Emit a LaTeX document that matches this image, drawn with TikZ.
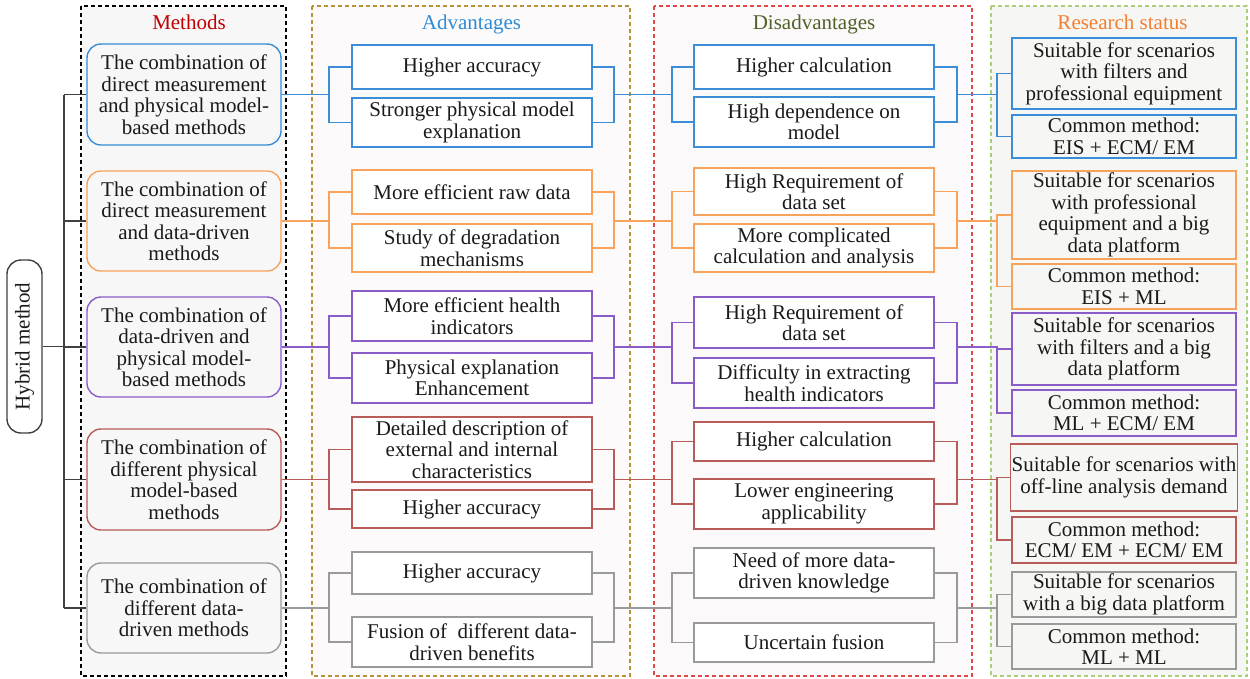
\documentclass[tikz,border=0pt]{standalone}
\usepackage{fontspec}
\setmainfont{Liberation Serif}
\definecolor{cB}{HTML}{3A8DD6}
\definecolor{cO}{HTML}{F7A35C}
\definecolor{cP}{HTML}{8A5CC8}
\definecolor{cR}{HTML}{B85C5A}
\definecolor{cG}{HTML}{9A9A9A}
\definecolor{tree}{HTML}{404040}
\definecolor{tM}{HTML}{C00000}
\definecolor{tA}{HTML}{2E8BD6}
\definecolor{tD}{HTML}{4F6228}
\definecolor{tR}{HTML}{F47E2F}
\definecolor{pA}{HTML}{B8923A}
\definecolor{pD}{HTML}{E04848}
\definecolor{pR}{HTML}{A8CF7A}
\definecolor{fM}{HTML}{F7F7F7}
\definecolor{fA}{HTML}{FDFAFB}
\definecolor{fD}{HTML}{FCF9FA}
\definecolor{fR}{HTML}{F6F6F4}
\definecolor{txt}{HTML}{1A1A1A}
\newcommand{\linkgroup}[8]{%
  \draw[conn,#1] (#2.east) -- (#2.east -| xAL);
  \draw[conn,#1] (#3.west) -- (#3.west -| xAL) -- (#4.west -| xAL) -- (#4.west);
  \draw[conn,#1] (#3.east) -- (#3.east -| xAR) -- (#4.east -| xAR) -- (#4.east);
  \draw[conn,#1] (#2.east -| xAR) -- (#2.east -| xDL);
  \draw[conn,#1] (#5.west) -- (#5.west -| xDL) -- (#6.west -| xDL) -- (#6.west);
  \draw[conn,#1] (#5.east) -- (#5.east -| xDR) -- (#6.east -| xDR) -- (#6.east);
  \draw[conn,#1] (#2.east -| xDR) -- (#2.east -| xRL) -- (#7.west -| xRL) -- (#7.west);
  \draw[conn,#1] (#7.west -| xRL) -- (#8.west -| xRL) -- (#8.west);
}
\begin{document}
\begin{tikzpicture}[x=1pt,y=-1pt,
  font=\fontsize{21}{21.5}\selectfont,
  every node/.style={text=txt},
  mbox/.style={draw, line width=1.4pt, rounded corners=14pt, fill=fM, minimum width=194pt, align=center, inner sep=1pt},
  abox/.style={draw, line width=1.4pt, fill=white, minimum width=240pt, align=center, inner sep=1pt},
  rbox/.style={draw, line width=1.4pt, fill=fR, minimum width=224pt, align=center, inner sep=1pt},
  conn/.style={line width=1.3pt},
  panel/.style={line width=1.1pt, dash pattern=on 4pt off 3pt},
  ttl/.style={anchor=base}]
\useasboundingbox (0,0) rectangle (1250,678);
% panels
\draw[panel, draw=black, fill=fM] (81,6) rectangle (286,676);
\draw[panel, draw=pA, fill=fA] (312,6) rectangle (630,676);
\draw[panel, draw=pD, fill=fD] (654,6) rectangle (972,676);
\draw[panel, draw=pR, fill=fR] (991,6) rectangle (1247,676);
% titles
\node[ttl, text=tM] (tMeth) at (189,29) {Methods};
\node[ttl, text=tA] (tAdv) at (471.5,29) {Advantages};
\node[ttl, text=tD] (tDis) at (814,29) {Disadvantages};
\node[ttl, text=tR] (tRes) at (1122.5,29) {Research status};
% bus coordinates
\coordinate (xT) at (64,0);
\coordinate (xAL) at (329,0);
\coordinate (xAR) at (614,0);
\coordinate (xDL) at (672,0);
\coordinate (xDR) at (957,0);
\coordinate (xRL) at (997,0);
% hybrid
\node[draw=tree, line width=1.4pt, fill=white, rounded corners=14pt, rotate=90, minimum width=173pt, minimum height=35pt, inner sep=1pt] (H) at (24.5,346.5) {Hybrid method};
% methods
\node[mbox, draw=cB, minimum height=101pt] (M1) at (184,94.5) {The combination of\\direct measurement\\and physical model-\\based methods};
\node[mbox, draw=cO, minimum height=100pt] (M2) at (184,221) {The combination of\\direct measurement\\and data-driven\\methods};
\node[mbox, draw=cP, minimum height=100pt] (M3) at (184,347) {The combination of\\data-driven and\\physical model-\\based methods};
\node[mbox, draw=cR, minimum height=101pt] (M4) at (184,479.5) {The combination of\\different physical\\model-based\\methods};
\node[mbox, draw=cG, minimum height=90pt] (M5) at (184,608) {The combination of\\different data-\\driven methods};
% advantages
\node[abox, draw=cB, minimum height=44pt] (A11) at (472,67) {Higher accuracy};
\node[abox, draw=cB, minimum height=49pt] (A12) at (472,122.5) {Stronger physical model\\explanation};
\node[abox, draw=cO, minimum height=44pt] (A21) at (472,192) {More efficient raw data};
\node[abox, draw=cO, minimum height=48pt] (A22) at (472,248) {Study of degradation\\mechanisms};
\node[abox, draw=cP, minimum height=50pt] (A31) at (472,316) {More efficient health\\indicators};
\node[abox, draw=cP, minimum height=50pt] (A32) at (472,378) {Physical explanation\\Enhancement};
\node[abox, draw=cR, minimum height=65pt] (A41) at (472,449.5) {Detailed description of\\external and internal\\characteristics};
\node[abox, draw=cR, minimum height=38pt] (A42) at (472,509) {Higher accuracy};
\node[abox, draw=cG, minimum height=42pt] (A51) at (472,573) {Higher accuracy};
\node[abox, draw=cG, minimum height=50pt] (A52) at (472,642) {Fusion of~ different data-\\driven benefits};
% disadvantages
\node[abox, draw=cB, minimum height=44pt] (D11) at (814,67) {Higher calculation};
\node[abox, draw=cB, minimum height=50pt] (D12) at (814,122) {High dependence on\\model};
\node[abox, draw=cO, minimum height=47pt] (D21) at (814,191.5) {High Requirement of\\data set};
\node[abox, draw=cO, minimum height=48pt] (D22) at (814,248) {More complicated\\calculation and analysis};
\node[abox, draw=cP, minimum height=51pt] (D31) at (814,322.5) {High Requirement of\\data set};
\node[abox, draw=cP, minimum height=50pt] (D32) at (814,383) {Difficulty in extracting\\health indicators};
\node[abox, draw=cR, minimum height=39pt] (D41) at (814,441.5) {Higher calculation};
\node[abox, draw=cR, minimum height=50pt] (D42) at (814,504) {Lower engineering\\applicability};
\node[abox, draw=cG, minimum height=50pt] (D51) at (814,573) {Need of more data-\\driven knowledge};
\node[abox, draw=cG, minimum height=39pt] (D52) at (814,642.5) {Uncertain fusion};
% research status
\node[rbox, draw=cB, minimum height=71pt] (R11) at (1124,73.5) {Suitable for scenarios\\with filters and\\professional equipment};
\node[rbox, draw=cB, minimum height=43pt] (R12) at (1124,136.5) {Common method:\\EIS + ECM/ EM};
\node[rbox, draw=cO, minimum height=88pt] (R21) at (1124,215) {Suitable for scenarios\\with professional\\equipment and a big\\data platform};
\node[rbox, draw=cO, minimum height=45pt] (R22) at (1124,286.5) {Common method:\\EIS + ML};
\node[rbox, draw=cP, minimum height=72pt] (R31) at (1124,349) {Suitable for scenarios\\with filters and a big\\data platform};
\node[rbox, draw=cP, minimum height=46pt] (R32) at (1124,413) {Common method:\\ML + ECM/ EM};
\node[rbox, draw=cR, minimum height=67pt] (R41) at (1124,477.5) {Suitable for scenarios with\\off-line analysis demand};
\node[rbox, draw=cR, minimum height=46pt] (R42) at (1124,540) {Common method:\\ECM/ EM + ECM/ EM};
\node[rbox, draw=cG, minimum height=45pt] (R51) at (1124,594.5) {Suitable for scenarios\\with a big data platform};
\node[rbox, draw=cG, minimum height=45pt] (R52) at (1124,646.5) {Common method:\\ML + ML};
% tree
\draw[conn, tree] (H.south) -- (H.south -| xT);
\draw[conn, tree] (M1.west -| xT) -- (M5.west -| xT);
\foreach \m in {M1,M2,M3,M4,M5} { \draw[conn, tree] (\m.west) -- (\m.west -| xT); }
% groups
\linkgroup{cB}{M1}{A11}{A12}{D11}{D12}{R11}{R12}
\linkgroup{cO}{M2}{A21}{A22}{D21}{D22}{R21}{R22}
\linkgroup{cP}{M3}{A31}{A32}{D31}{D32}{R31}{R32}
\linkgroup{cR}{M4}{A41}{A42}{D41}{D42}{R41}{R42}
\linkgroup{cG}{M5}{A51}{A52}{D51}{D52}{R51}{R52}
\end{tikzpicture}
\end{document}
